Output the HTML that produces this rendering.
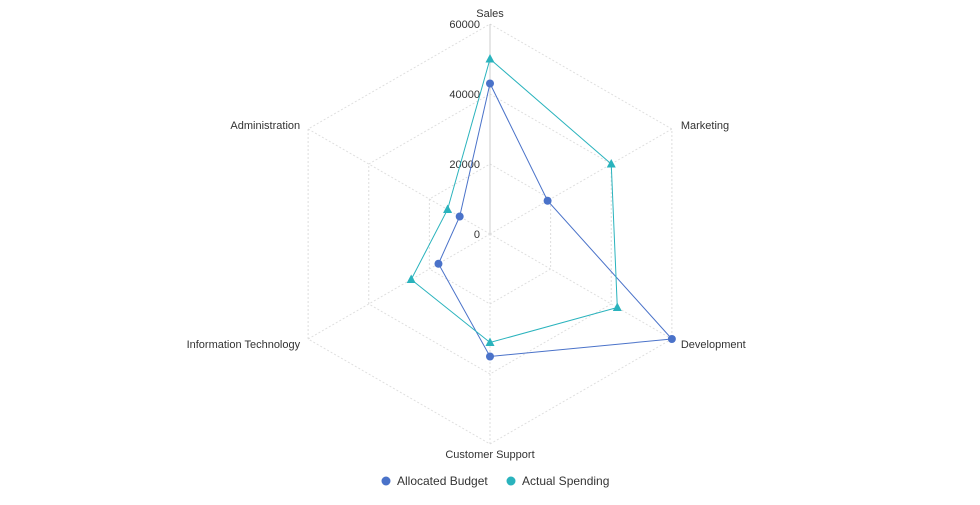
<!DOCTYPE html>
<html><head><meta charset="utf-8"><style>
body{margin:0;background:#fff;width:980px;height:500px;overflow:hidden;font-family:"Liberation Sans",sans-serif}
</style></head><body>
<svg id="c" width="980" height="500" xmlns="http://www.w3.org/2000/svg"></svg>
<script>
const indicators=["Sales","Marketing","Development","Customer Support","Information Technology","Administration"];
const allocated=[43000,19000,60000,35000,17000,10000];
const actual=[50000,40000,42000,31000,26000,14000];
const ticks=[0,20000,40000,60000];
const maxV=60000;
const cx=490,cy=234,R=210;
const svg=document.getElementById('c');
const NS='http://www.w3.org/2000/svg';
function mk(t,a,p){const e=document.createElementNS(NS,t);for(const k in a)e.setAttribute(k,a[k]);(p||svg).appendChild(e);return e;}
function pt(i,v){const ang=-Math.PI/2+i*2*Math.PI/indicators.length;const r=v/maxV*R;return [cx+r*Math.cos(ang),cy+r*Math.sin(ang)];}
ticks.slice(1).forEach(t=>{
  const pts=indicators.map((_,i)=>pt(i,t).join(',')).join(' ');
  const g=mk('polygon',{points:pts,fill:'none',stroke:'#ddd','stroke-dasharray':'2,2'});
  
  
});
indicators.forEach((n,i)=>{
  const p=pt(i,maxV);
  const l=mk('line',{x1:cx,y1:cy,x2:p[0],y2:p[1],stroke:i===0?'#ccc':'#ddd','stroke-dasharray':i===0?'':'2,2'});
  
  
  let x=p[0],y=p[1],anchor='middle';
  if(i===0){y=p[1]-7;}
  else if(i===3){y=p[1]+14;}
  else{
    anchor=i<3?'start':'end';
    x=i<3?p[0]+9:p[0]-8;
    y=(i===1||i===5)?p[1]-0:p[1]+9;
  }
  const tx=mk('text',{x:x,y:y,'text-anchor':anchor,'font-size':'11',fill:'#333'});
  tx.textContent=n;
  
  
});
ticks.forEach(t=>{
  const p=pt(0,t);
  const tx=mk('text',{x:p[0]-10,y:p[1]+4,'text-anchor':'end','font-size':'11',fill:'#333'});
  tx.textContent=t;
  
  
});
function series(vals,color,tri,name){
  const g=mk('g',{});
  
  
  const pts=vals.map((v,i)=>pt(i,v));
  mk('polygon',{points:pts.map(p=>p.join(',')).join(' '),fill:'none',stroke:color,'stroke-width':1},g);
  pts.forEach(p=>{
    let m;
    if(tri)m=mk('polygon',{points:`${p[0]},${p[1]-5} ${p[0]-4.5},${p[1]+3.5} ${p[0]+4.5},${p[1]+3.5}`,fill:color},g);
    else m=mk('circle',{cx:p[0],cy:p[1],r:4,fill:color},g);
    
    
  });
}
series(allocated,'#4a72c9',false,'series-allocated-budget');
series(actual,'#2ab3bd',true,'series-actual-spending');
const lg=[['Allocated Budget','#4a72c9',386],['Actual Spending','#2ab3bd',511]];
lg.forEach(l=>{
  const g=mk('g',{});
  
  
  mk('circle',{cx:l[2],cy:481,r:4.5,fill:l[1]},g);
  const t=mk('text',{x:l[2]+11,y:485,'font-size':'12',fill:'#333'},g);
  t.textContent=l[0];
});
</script>
</body></html>
